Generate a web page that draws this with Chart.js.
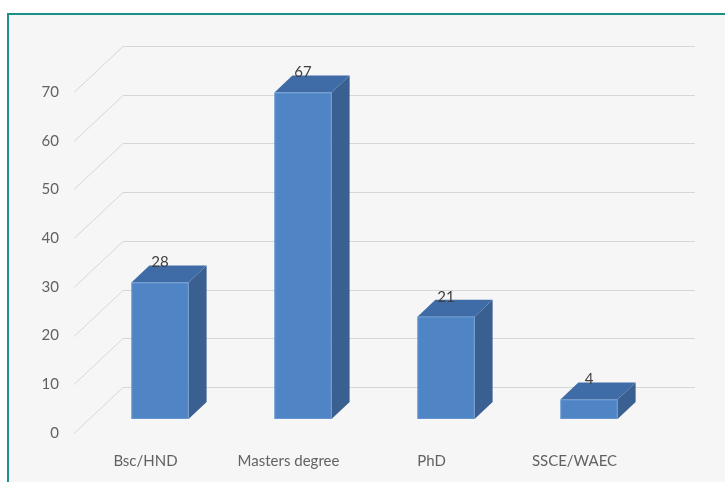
<!DOCTYPE html>
<html>
<head>
  <meta charset="utf-8">
  <title>Qualification</title>
  <script src="https://cdn.jsdelivr.net/npm/chart.js"></script>
  <style>
    html, body { margin: 0; padding: 0; background: #fff; }
    .wrap { position: relative; width: 725px; height: 482px; overflow: hidden; }
    .frame {
      position: absolute; left: 7px; top: 13px; width: 740px; height: 500px;
      border: 2px solid #1c918a; background: #f6f6f6;
    }
    canvas { position: absolute; left: 0; top: 0; }
  </style>
</head>
<body>
  <div class="wrap">
    <div class="frame"></div>
    <canvas id="chart" width="725" height="482"></canvas>
  </div>

  <script>
    const categories = ['Bsc/HND', 'Masters degree', 'PhD', 'SSCE/WAEC'];
    const counts = [28, 67, 21, 4];
    const yMax = 70;
    const yStep = 10;

    // oblique depth of the whole plot box, and where the bars sit inside it
    const WALL = { dx: 49, dy: -46 };
    const BAR_OFF = { dx: 14.5, dy: -14 };
    const BAR_DEPTH = { dx: 18, dy: -17 };

    const FONT = 'Lato, "Noto Sans", sans-serif';

    const pseudo3d = {
      id: 'pseudo3d',
      beforeDatasetsDraw(chart) {
        const { ctx, chartArea: a, scales: { y } } = chart;
        ctx.save();
        ctx.strokeStyle = '#d6d6d6';
        ctx.lineWidth = 1;
        y.ticks.forEach(t => {
          const py = Math.round(y.getPixelForValue(t.value)) + 0.5;
          ctx.beginPath();
          ctx.moveTo(a.left, py);
          ctx.lineTo(a.left + WALL.dx, py + WALL.dy);
          ctx.lineTo(a.right + WALL.dx, py + WALL.dy);
          ctx.stroke();
        });
        ctx.restore();
      },
      afterDatasetsDraw(chart) {
        const { ctx } = chart;
        const meta = chart.getDatasetMeta(0);
        ctx.save();
        meta.data.forEach((bar, i) => {
          const { x, y, base, width } = bar.getProps(['x', 'y', 'base', 'width'], true);
          const l = x - width / 2 + BAR_OFF.dx;
          const r = x + width / 2 + BAR_OFF.dx;
          const t = y + BAR_OFF.dy;
          const b = base + BAR_OFF.dy;
          const { dx, dy } = BAR_DEPTH;

          // right side
          ctx.fillStyle = '#3a5f91';
          ctx.beginPath();
          ctx.moveTo(r, t); ctx.lineTo(r + dx, t + dy);
          ctx.lineTo(r + dx, b + dy); ctx.lineTo(r, b);
          ctx.closePath(); ctx.fill();

          // top
          ctx.fillStyle = '#3f6ba6';
          ctx.beginPath();
          ctx.moveTo(l, t); ctx.lineTo(l + dx, t + dy);
          ctx.lineTo(r + dx, t + dy); ctx.lineTo(r, t);
          ctx.closePath(); ctx.fill();

          // front
          ctx.fillStyle = '#4f85c5';
          ctx.fillRect(l, t, r - l, b - t);
          ctx.strokeStyle = 'rgba(120,160,215,0.6)';
          ctx.lineWidth = 1;
          ctx.strokeRect(l + 0.5, t + 0.5, r - l - 1, b - t - 1);

          // value label
          ctx.fillStyle = '#404040';
          ctx.font = '15px ' + FONT;
          ctx.textAlign = 'center';
          ctx.textBaseline = 'middle';
          ctx.fillText(String(counts[i]), x + BAR_OFF.dx, t - 20);
        });
        ctx.restore();
      }
    };

    new Chart(document.getElementById('chart'), {
      type: 'bar',
      data: {
        labels: categories,
        datasets: [{
          data: counts,
          backgroundColor: 'rgba(0,0,0,0)',
          borderWidth: 0,
          categoryPercentage: 1,
          barPercentage: 0.4
        }]
      },
      options: {
        responsive: false,
        animation: false,
        events: [],
        layout: { padding: { top: 92, right: 79, left: 0, bottom: 0 } },
        plugins: { legend: { display: false }, tooltip: { enabled: false } },
        scales: {
          x: {
            grid: { display: false, drawTicks: false },
            border: { display: false },
            ticks: { color: '#626262', font: { family: FONT, size: 15 }, padding: 19, maxRotation: 0 },
            afterFit(s) { s.height = 49; }
          },
          y: {
            min: 0,
            max: yMax,
            grid: { display: false, drawTicks: false },
            border: { display: false },
            ticks: { stepSize: yStep, color: '#626262', font: { family: FONT, size: 15 }, padding: 15 },
            afterFit(s) { s.width = 74; }
          }
        }
      },
      plugins: [pseudo3d]
    });
  </script>
</body>
</html>
